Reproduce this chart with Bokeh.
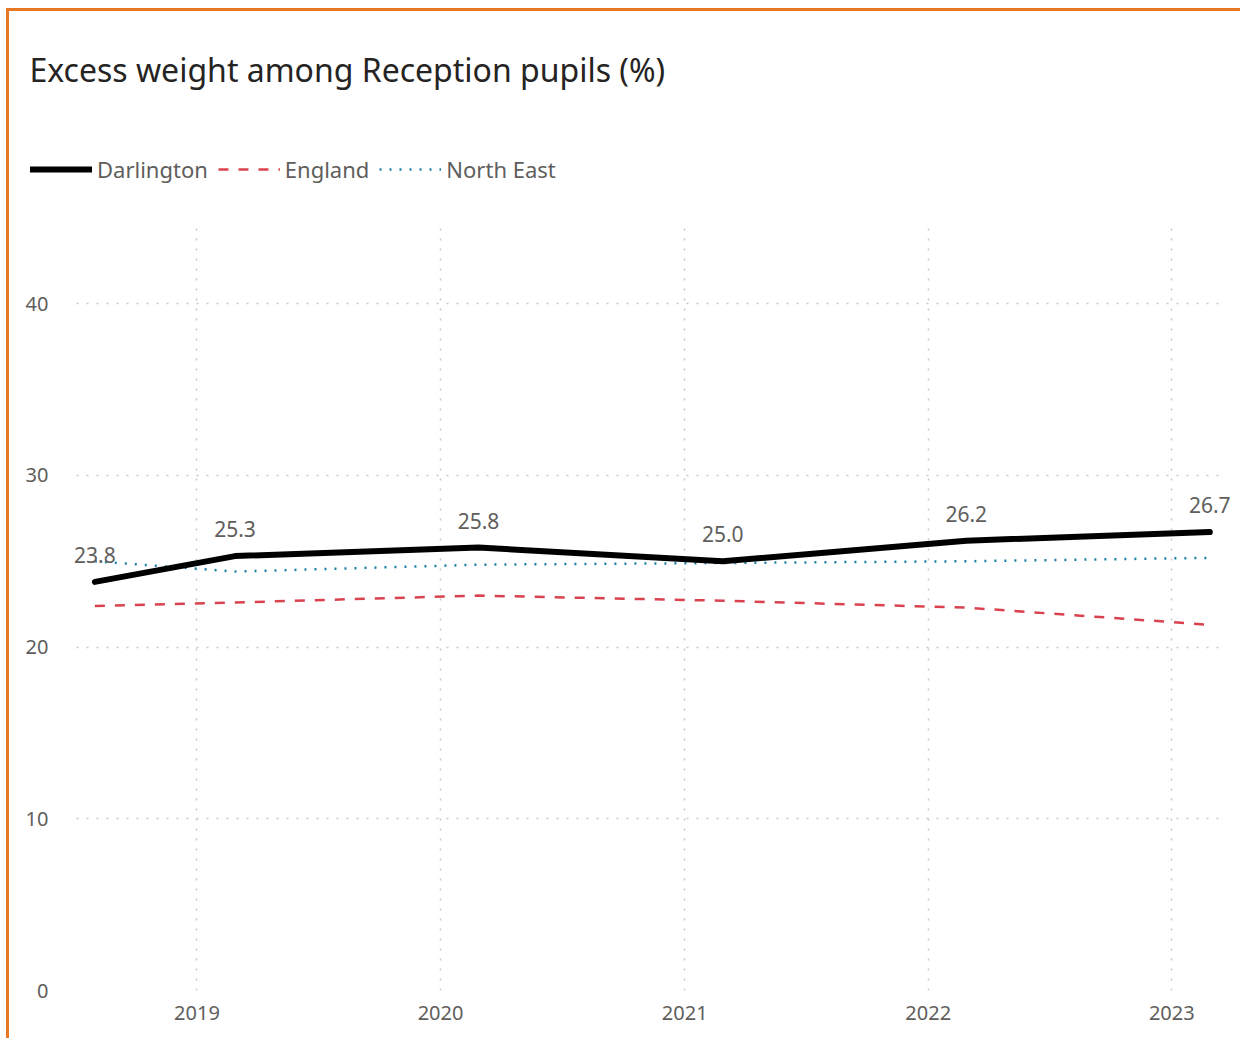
from datetime import datetime
from bokeh.plotting import figure
from bokeh.models import (Range1d, FixedTicker, YearsTicker, DatetimeTickFormatter,
                          Legend, LegendItem, ColumnDataSource, LabelSet)
from bokeh.core.properties import value
from bokeh.embed import file_html
from bokeh.resources import INLINE

# ---- data ----
dates = [datetime(2018, 8, 1), datetime(2019, 2, 27), datetime(2020, 2, 27),
         datetime(2021, 2, 27), datetime(2022, 2, 27), datetime(2023, 2, 27)]
darlington = [23.8, 25.3, 25.8, 25.0, 26.2, 26.7]
england = [22.4, 22.6, 23.0, 22.7, 22.3, 21.3]
north_east = [25.0, 24.4, 24.8, 24.9, 25.0, 25.2]
darlington_labels = ["23.8", "25.3", "25.8", "25.0", "26.2", "26.7"]
y_ticks = [0, 10, 20, 30, 40]

FONT = "Noto Sans"
GREY = "#605E5C"
EPOCH = datetime(1970, 1, 1)


def ms(d):
    return (d - EPOCH).total_seconds() * 1000.0


p = figure(width=1234, height=1030, output_backend="svg", toolbar_location=None,
           x_axis_type="datetime",
           x_range=Range1d(datetime(2018, 4, 17, 12), datetime(2023, 4, 2)),
           y_range=Range1d(0, 50.38),
           min_border_left=15, min_border_right=11, min_border_bottom=51, min_border_top=114)
p.styles = {"border-top": "3px solid #E87722", "border-left": "3px solid #E87722",
            "margin-top": "8px", "margin-left": "6px"}
p.outline_line_color = None

p.title.text = "Excess weight among Reception pupils (%)"
p.title.text_font = FONT
p.title.text_font_size = "32px"
p.title.text_font_style = "normal"
p.title.text_color = "#252423"
p.title.offset = 5
p.title.vertical_align = "top"
p.title.standoff = 66

src = ColumnDataSource(dict(x=dates, d=darlington, e=england, n=north_east, lab=darlington_labels))

r_ne = p.line("x", "n", source=src, line_color="#1C80A4", line_width=2.5, line_dash="2 8")
r_en = p.line("x", "e", source=src, line_color="#D9434F", line_width=2.5, line_dash="10 10")
r_da = p.line("x", "d", source=src, line_color="black", line_width=6, line_cap="round", line_join="round")

labels = LabelSet(x="x", y="d", text="lab", source=src, text_align="center", text_baseline="middle",
                  y_offset=27, text_font=value(FONT), text_font_size="21px", text_color=GREY)
p.add_layout(labels)

legend = Legend(items=[LegendItem(label="Darlington", renderers=[r_da]),
                       LegendItem(label="England", renderers=[r_en]),
                       LegendItem(label="North East", renderers=[r_ne])],
                orientation="horizontal", location=(6, 806),
                glyph_width=62, glyph_height=20, label_standoff=5, spacing=10, padding=0,
                margin=0, border_line_color=None, background_fill_alpha=0,
                label_text_font=FONT, label_text_font_size="22px", label_text_color=GREY,
                label_height=20)
p.add_layout(legend, "center")

# axes
p.xaxis.ticker = YearsTicker()
p.xaxis.formatter = DatetimeTickFormatter(years="%Y", months="%Y", days="%Y")
p.yaxis.ticker = FixedTicker(ticks=y_ticks)
for ax in (p.xaxis, p.yaxis):
    ax.axis_line_color = None
    ax.major_tick_line_color = None
    ax.minor_tick_line_color = None
    ax.major_label_text_font = FONT
    ax.major_label_text_font_size = "20px"
    ax.major_label_text_color = GREY
p.yaxis.major_label_standoff = -30
p.xaxis.major_label_standoff = 9

for g in (p.xgrid, p.ygrid):
    g.grid_line_color = "#C8C8C8"
    g.grid_line_dash = "2 8"
    g.grid_line_width = 1.5
p.xgrid.ticker = YearsTicker()
p.xgrid.cross_bounds = (0, 44.85)
p.ygrid.cross_bounds = (ms(datetime(2018, 7, 4)), ms(datetime(2023, 3, 21)))

open("out.html", "w").write(file_html(p, INLINE))
